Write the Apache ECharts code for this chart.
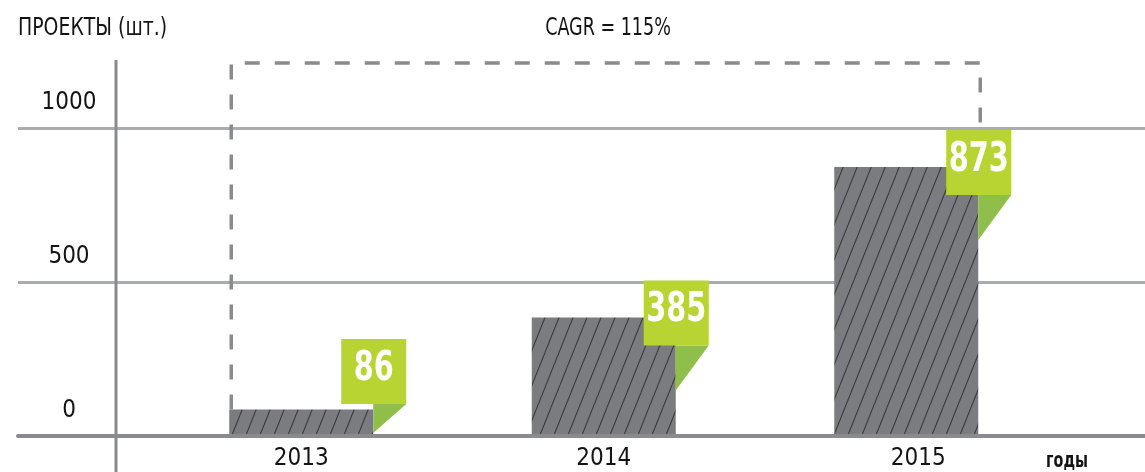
<!DOCTYPE html>
<html><head><meta charset="utf-8">
<script src="https://cdn.jsdelivr.net/npm/echarts@6/dist/echarts.min.js"></script>
<style>html,body{margin:0;padding:0;background:#fff}#c{width:1145px;height:472px}</style>
</head><body><div id="c"></div>
<script>
const years = ['2013', '2014', '2015'];
const projects = [86, 385, 873];
const yTicks = [0, 500, 1000];
const titleText = 'ПРОЕКТЫ (шт.)';
const cagrText = 'CAGR = 115%';
const xUnitText = 'годы';

const FONT = "'Liberation Sans Narrow', 'DejaVu Sans Condensed', 'Arial Narrow', sans-serif";
const BAR_GRAY = '#7b7c80';
const AXIS_GRAY = '#8a8b8e';
const GRID_GRAY = '#abacaf';
const GREEN = '#b7d433';
const GREEN_DARK = '#8dbf4a';
const TXT = '#141414';

function makeHatch() {
  const w = 14, h = 35;
  const c = document.createElement('canvas');
  c.width = w; c.height = h;
  const g = c.getContext('2d');
  g.fillStyle = BAR_GRAY; g.fillRect(0, 0, w, h);
  g.strokeStyle = '#3b3b3e'; g.lineWidth = 1.1;
  for (const dx of [-w, 0, w]) { g.beginPath(); g.moveTo(dx, h); g.lineTo(dx + w, 0); g.stroke(); }
  return c;
}
const hatch = makeHatch();
const BAR_FRAC = 0.476;

const chart = echarts.init(document.getElementById('c'), null, {renderer: 'canvas'});
const yMin = yTicks[0], yMax = yTicks[yTicks.length - 1], yInt = yTicks[1] - yTicks[0];

const option = {
  animation: false,
  backgroundColor: '#fff',
  grid: [
    {left: 18, right: 0, top: 128, height: 308},
    {left: 150, width: 907.5, top: 128, height: 308}
  ],
  xAxis: [
    {gridIndex: 0, type: 'value', min: 0, max: 1,
     axisLine: {show: true, lineStyle: {color: AXIS_GRAY, width: 4}},
     axisTick: {show: false}, axisLabel: {show: false}, splitLine: {show: false}},
    {gridIndex: 1, type: 'category', data: years,
     axisLine: {show: false}, axisTick: {show: false},
     axisLabel: {margin: 11, color: TXT, fontFamily: FONT, fontSize: 24,
       formatter: (v, i) => i === years.length - 1 ? '{s|' + v + '}' : v,
       rich: {s: {padding: [0, 0, 0, 24], fontFamily: FONT, fontSize: 24, color: TXT}}},
     splitLine: {show: false}}
  ],
  yAxis: [
    {gridIndex: 0, type: 'value', min: yMin, max: yMax, interval: yInt,
     axisLine: {show: false}, axisTick: {show: false},
     axisLabel: {inside: true, margin: 51, align: 'center', verticalAlign: 'bottom',
       padding: [0, 0, 13, 0], color: TXT, fontFamily: FONT, fontSize: 24,
       formatter: v => String(v)},
     splitLine: {show: true, lineStyle: {color: GRID_GRAY, width: 3}}},
    {gridIndex: 1, type: 'value', min: yMin, max: yMax, interval: yInt, show: false}
  ],
  series: [
    {
      type: 'custom', xAxisIndex: 1, yAxisIndex: 1, z: 3,
      data: [[0]],
      renderItem(params, api) {
        const n = projects.length;
        const a = api.coord([0, projects[0]]);
        const b = api.coord([n - 1, projects[n - 1]]);
        const bw = api.size([1, 0])[0] * BAR_FRAC;
        const xL = a[0] - bw / 2 + 2, xR = b[0] + bw / 2 + 2;
        const topY = 63;
        return {type: 'polyline',
          shape: {points: [[xL, a[1]], [xL, topY], [xR, topY], [xR, b[1]]]},
          style: {stroke: AXIS_GRAY, lineWidth: 3.5, lineDash: [15, 15], fill: null}};
      }
    },
    {
      type: 'custom', xAxisIndex: 1, yAxisIndex: 1, z: 4,
      data: projects.map((v, i) => [i, v]),
      renderItem(params, api) {
        const i = api.value(0), v = api.value(1);
        const base = api.coord([i, 0]), tp = api.coord([i, v]);
        const bw = api.size([1, 0])[0] * BAR_FRAC;
        const left = base[0] - bw / 2, right = left + bw, top = tp[1], zeroY = base[1];
        const box = 65;
        const boxRight = right + 33, boxLeft = boxRight - box;
        const boxBottom = Math.min(top + 28, zeroY - 32);
        const boxTop = boxBottom - box;
        const foldH = Math.min(45, zeroY - 3 - boxBottom);
        return {type: 'group', children: [
          {type: 'rect', shape: {x: left, y: top, width: bw, height: zeroY - 2 - top},
           style: {fill: {image: hatch, repeat: 'repeat'}}},
          {type: 'polygon', shape: {points: [[right, boxBottom], [boxRight, boxBottom], [right, boxBottom + foldH]]},
           style: {fill: GREEN_DARK}},
          {type: 'rect', shape: {x: boxLeft, y: boxTop, width: box, height: box}, style: {fill: GREEN}},
          {type: 'text', x: (boxLeft + boxRight) / 2, y: (boxTop + boxBottom) / 2 - 2, scaleX: 0.8,
           style: {x: 0, y: 0, text: String(v), fill: '#fff', font: 'bold 40px ' + FONT,
             align: 'center', verticalAlign: 'middle'}}
        ]};
      }
    }
  ],
  graphic: [
    {type: 'line', z: 10, shape: {x1: 116, y1: 60, x2: 116, y2: 472}, style: {stroke: AXIS_GRAY, lineWidth: 3}},
    {type: 'text', x: 18, y: 28, scaleX: 0.84, style: {text: titleText, font: '25px ' + FONT, fill: TXT, verticalAlign: 'middle'}},
    {type: 'text', x: 608, y: 28, scaleX: 0.78, style: {text: cagrText, font: '25px ' + FONT, fill: TXT, align: 'center', verticalAlign: 'middle'}},
    {type: 'text', x: 1067, y: 462, scaleX: 0.76, style: {text: xUnitText, font: 'bold 21px ' + FONT, fill: TXT, align: 'center', verticalAlign: 'middle'}}
  ]
};
chart.setOption(option);
</script>
</body></html>
